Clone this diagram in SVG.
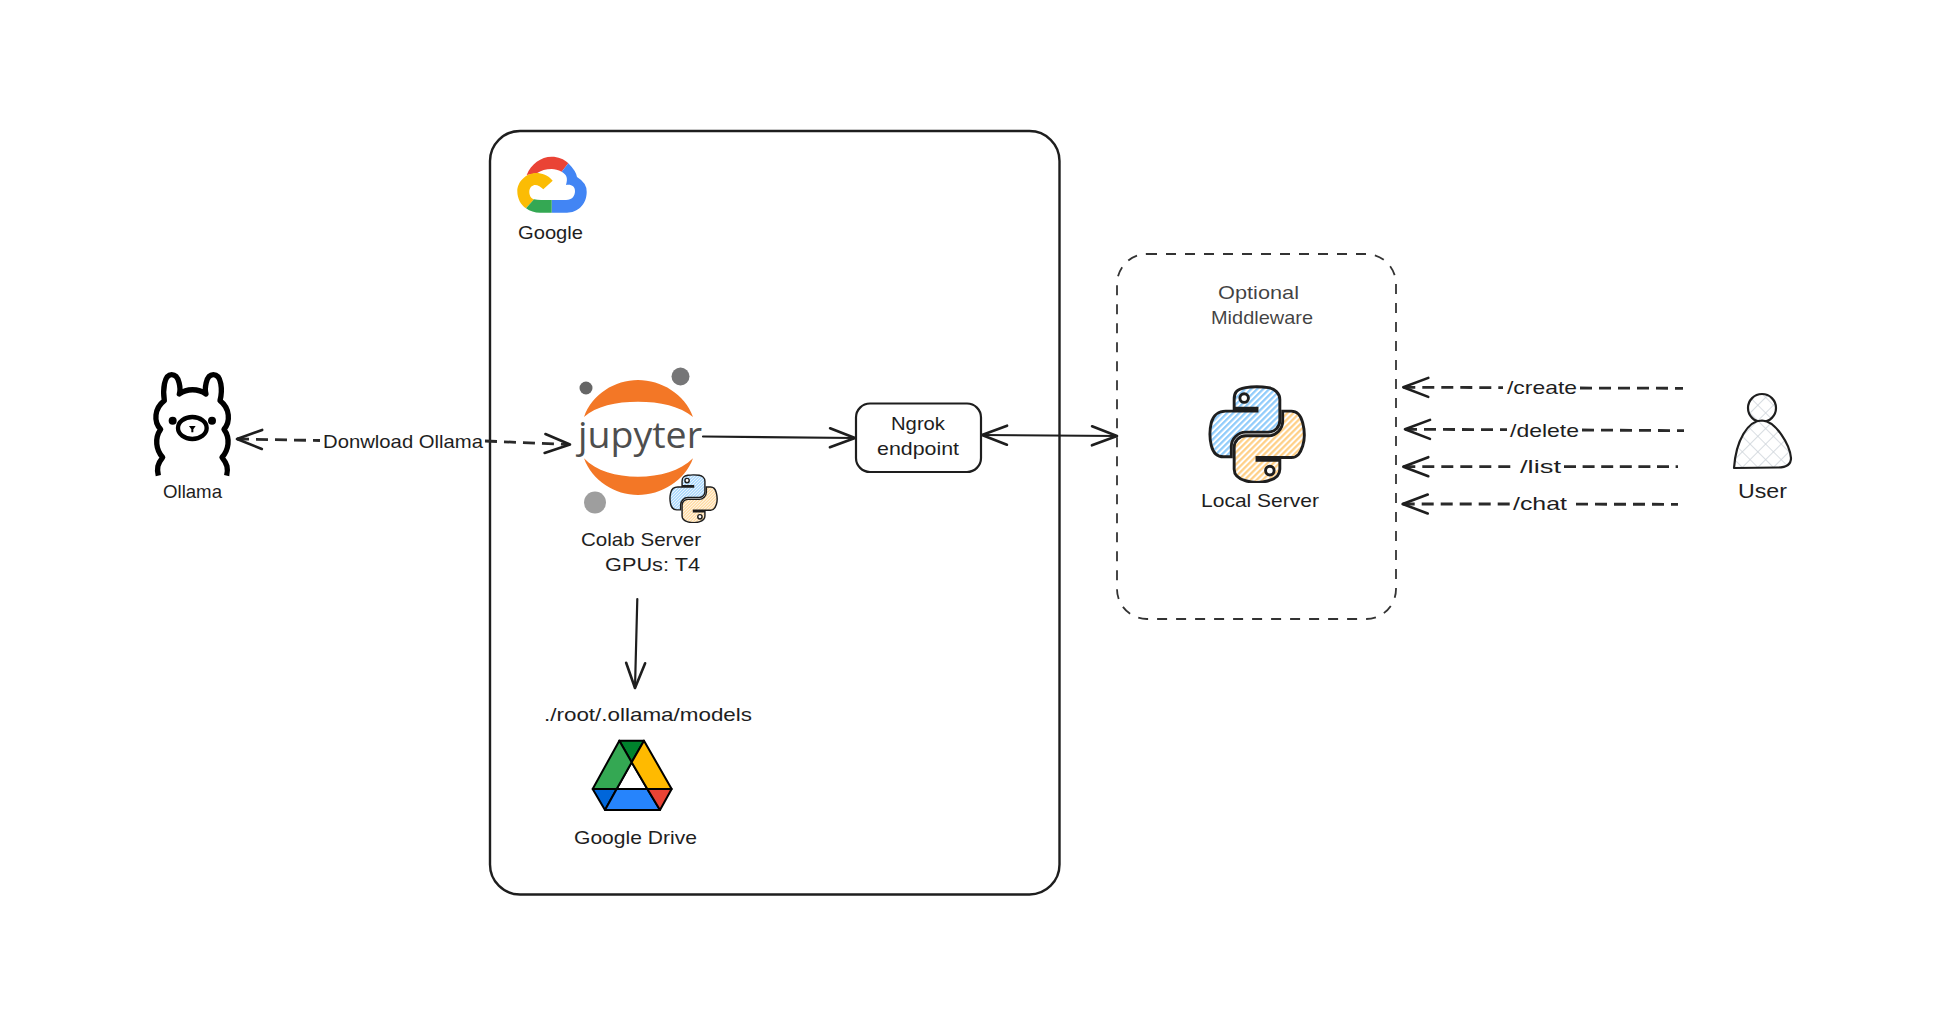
<svg xmlns="http://www.w3.org/2000/svg" width="1944" height="1023" viewBox="0 0 1944 1023">
<style>
text{font-family:"Liberation Sans","DejaVu Sans",sans-serif;font-size:19px;fill:#1e1e1e}
.c{fill:none;stroke:#1e1e1e;stroke-width:2.2;stroke-linecap:round}
.d{fill:none;stroke:#2a2a2a;stroke-width:2.8;stroke-dasharray:12 7}
.h{marker-end:url(#ah)}
.t{marker-start:url(#ah)}
.py{stroke:#1e1e1e;stroke-width:3.4;fill-rule:evenodd}
</style>
<defs>
<marker id="ah" viewBox="-28 -12 31 24" refX="0" refY="0" markerWidth="31" markerHeight="24" markerUnits="userSpaceOnUse" orient="auto-start-reverse">
<path d="M-25,-9.5 L0,0 L-25,9.5" fill="none" stroke="#1e1e1e" stroke-width="2.6" stroke-linecap="round" stroke-linejoin="round"/>
</marker>
<pattern id="hb" width="5" height="5" patternUnits="userSpaceOnUse" patternTransform="rotate(45)">
<rect width="5" height="5" fill="#fff"/><rect width="2.6" height="5" fill="#8fcbfb"/>
</pattern>
<pattern id="hy" width="5" height="5" patternUnits="userSpaceOnUse" patternTransform="rotate(45)">
<rect width="5" height="5" fill="#fff"/><rect width="2.6" height="5" fill="#ffcf85"/>
</pattern>
<pattern id="hx" width="11" height="11" patternUnits="userSpaceOnUse" patternTransform="rotate(45)">
<rect width="11" height="11" fill="#fff"/><path d="M0,0H11M0,0V11" stroke="#ced4da" stroke-width="1.6" fill="none"/>
</pattern>
<symbol id="python" viewBox="-2 -2 115 115">
<path class="py" fill="url(#hb)" d="M54.919,0 c-4.584,0.021 -8.961,0.412 -12.813,1.094 C30.760,3.099 28.700,7.295 28.700,15.032 v10.219 h26.813 v3.406 H28.700 H18.638 c-7.792,0 -14.616,4.684 -16.750,13.594 C-0.574,52.464 -0.684,58.691 1.888,69.032 C3.793,76.732 8.347,82.219 16.138,82.219 h9.219 V69.969 c0,-8.850 7.657,-16.656 16.750,-16.656 h26.781 c7.455,0 13.406,-6.138 13.406,-13.625 V15.032 c0,-7.266 -6.130,-12.725 -13.406,-13.938 C64.282,0.328 59.502,-0.021 54.919,0 z M40.419,8.219 c2.770,0 5.031,2.299 5.031,5.125 c0,2.816 -2.262,5.094 -5.031,5.094 c-2.779,0 -5.031,-2.277 -5.031,-5.094 c0,-2.826 2.252,-5.125 5.031,-5.125 z"/>
<path class="py" fill="url(#hy)" d="M85.638,28.657 v11.906 c0,9.231 -7.826,17 -16.750,17 H42.106 c-7.336,0 -13.406,6.278 -13.406,13.625 V96.719 c0,7.266 6.319,11.540 13.406,13.625 c8.487,2.496 16.626,2.947 26.781,0 C75.637,108.390 82.294,104.447 82.294,96.719 V86.500 H55.513 v-3.406 H82.294 h13.406 c7.792,0 10.696,-5.435 13.406,-13.594 c2.799,-8.399 2.741,-16.476 0,-27.250 c-1.926,-7.757 -5.604,-13.594 -13.406,-13.594 z M70.575,93.313 c2.779,0 5.031,2.277 5.031,5.094 c0,2.826 -2.252,5.125 -5.031,5.125 c-2.770,0 -5.031,-2.299 -5.031,-5.125 c0,-2.816 2.262,-5.094 5.031,-5.094 z"/>
</symbol>
</defs>
<rect width="1944" height="1023" fill="#fff"/>

<g id="google-container">
<rect x="490" y="131" width="569.5" height="763.5" rx="30" fill="none" stroke="#1e1e1e" stroke-width="2.4"/>
</g>
<g id="middleware-container">
<rect x="1117" y="254" width="279" height="365" rx="30" fill="none" stroke="#333" stroke-width="1.8" stroke-dasharray="10 9"/>
<text x="1218" y="298.5" textLength="81" lengthAdjust="spacingAndGlyphs" fill-opacity=".85">Optional</text>
<text x="1211" y="323.5" textLength="102" lengthAdjust="spacingAndGlyphs" fill-opacity=".85">Middleware</text>
</g>

<g id="connectors">
<path class="d t" d="M237,439 L320,440.5"/>
<text x="323" y="447.5" textLength="160" lengthAdjust="spacingAndGlyphs">Donwload Ollama</text>
<path class="d h" d="M485,441 L570,444.5"/>
<path class="c h" d="M703,436.5 L855,438"/>
<path class="c h" d="M637.3,599 L635,688"/>
<path class="c t h" d="M982,435 L1117,436"/>
<path class="d t" d="M1403.3,387.3 L1503,387.6"/>
<text x="1507" y="393.5" textLength="70" lengthAdjust="spacingAndGlyphs">/create</text>
<path class="d" d="M1580,388 L1683,388.3"/>
<path class="d t" d="M1405,429.3 L1507,429.7"/>
<text x="1510" y="436.5" textLength="69" lengthAdjust="spacingAndGlyphs">/delete</text>
<path class="d" d="M1582,430 L1684,430.7"/>
<path class="d t" d="M1403.3,466.7 L1517,466.7"/>
<text x="1520" y="473" textLength="41" lengthAdjust="spacingAndGlyphs">/list</text>
<path class="d" d="M1564,466.7 L1678,466.7" style="stroke-dasharray:12 6.6"/>
<path class="d t" d="M1402.7,504 L1510,504"/>
<text x="1513" y="510" textLength="54" lengthAdjust="spacingAndGlyphs">/chat</text>
<path class="d" d="M1576,504.2 L1678,504.3"/>
</g>

<g id="ollama">
<g transform="translate(120,340) scale(.33333)">
<path fill="#fff" stroke="#000" stroke-width="16" stroke-linejoin="round" d="M115,407 C110,385 112,372 128,352 C108,330 103,295 122,268 C100,245 103,205 133,182 C128,150 132,104 155,104 C180,104 182,150 178,162 C200,145 235,145 258,162 C254,150 256,104 280,104 C305,104 308,150 300,182 C330,205 332,245 312,268 C332,295 326,330 306,352 C322,372 325,385 320,407"/>
<ellipse cx="217" cy="264" rx="43" ry="33" fill="#fff" stroke="#000" stroke-width="13"/>
<circle cx="158" cy="242" r="12"/>
<circle cx="276" cy="242" r="12"/>
<path d="M207,258 H227 L220,268 V277 H214 V268 Z"/>
</g>
<text x="163" y="498" textLength="59" lengthAdjust="spacingAndGlyphs">Ollama</text>
</g>

<g id="google-cloud">
<path fill="#ea4335" d="M526.7,175 C531,164 541,156.7 551.7,156.7 C558,156.7 564,159 568.3,163.3 L561.7,171.7 C558,170 555,169 551.7,169 C546,169 541,170.5 536.7,173.3 Z"/>
<path fill="#4285f4" d="M568.3,163.3 Q576,171 577,177 Q587,183 586.7,192 C586.7,205 577,212.7 567,212.7 L551.7,212.7 L551.7,200 L566,200 C572,200 575,196 575,191 C575,186 571,184 566,185 C568,178 567,175 561.7,171.7 Z"/>
<path fill="#fbbc04" d="M552.7,180.7 C548,175 542,173 536,173 C526,173 517.3,182 517.3,191 C517.3,199 521,205 526,208.3 L534,199.3 C530,198 529.3,194 529.3,191.7 C529.3,187 533,185 535,185 C538,185 541,187 543.3,189.3 Z"/>
<path fill="#34a853" d="M526,208.3 L534,199.3 Q537,200 541,200 L551.7,200 L551.7,212.7 L540,212.7 Q532,212.7 526,208.3 Z"/>
<text x="518" y="239" textLength="65" lengthAdjust="spacingAndGlyphs">Google</text>
</g>

<g id="colab-server">
<path fill="#f37726" d="M584,417 C592,394 615,380 638,380 C661,380 685,394 693,417 C680,406 660,401.7 638,401.7 C616,401.7 596,406 584,417 Z"/>
<path fill="#f37726" d="M584,458.3 C592,481 615,495 638,495 C661,495 685,481 693,458.3 C680,471 660,476.7 638,476.7 C616,476.7 596,471 584,458.3 Z"/>
<circle cx="586" cy="388" r="6.5" fill="#666"/>
<circle cx="680.5" cy="376.5" r="9" fill="#767677"/>
<circle cx="595" cy="502.5" r="11" fill="#9e9e9e"/>
<text x="578" y="448" textLength="124" lengthAdjust="spacingAndGlyphs" style="font-family:'Open Sans','DejaVu Sans',sans-serif;font-size:37px;fill:#4e4e4e">jupyter</text>
<use href="#python" x="669" y="474" width="49" height="49"/>
<text x="581" y="546" textLength="120" lengthAdjust="spacingAndGlyphs">Colab Server</text>
<text x="605" y="571" textLength="95" lengthAdjust="spacingAndGlyphs">GPUs: T4</text>
</g>

<g id="google-drive">
<text x="544" y="720.5" textLength="208" lengthAdjust="spacingAndGlyphs">./root/.ollama/models</text>
<g transform="translate(520,580) scale(.33333)" stroke="#000" stroke-width="6" stroke-linejoin="round">
<path fill="#fff" d="M335,547 L290,627 H382 Z"/>
<path fill="#00832d" d="M298,482 H372 L335,547 Z"/>
<path fill="#34a853" d="M298,482 L335,547 L290,627 H218 Z"/>
<path fill="#ffba00" d="M372,482 L455,627 H382 L335,547 Z"/>
<path fill="#0066da" d="M218,627 H290 L255,690 Z"/>
<path fill="#2684fc" d="M290,627 H382 L420,690 H255 Z"/>
<path fill="#ea4335" d="M382,627 H455 L420,690 Z"/>
</g>
<text x="574" y="844" textLength="123" lengthAdjust="spacingAndGlyphs">Google Drive</text>
</g>

<g id="ngrok-endpoint">
<rect x="856" y="403.5" width="125" height="68.5" rx="14" fill="#fff" stroke="#1e1e1e" stroke-width="2.2"/>
<text x="891" y="430" textLength="54" lengthAdjust="spacingAndGlyphs">Ngrok</text>
<text x="877" y="455" textLength="82" lengthAdjust="spacingAndGlyphs">endpoint</text>
</g>

<g id="local-server">
<use href="#python" x="1208" y="385" width="98" height="98"/>
<text x="1201" y="506.5" textLength="118" lengthAdjust="spacingAndGlyphs">Local Server</text>
</g>

<g id="user">
<circle cx="1762" cy="408" r="14" fill="url(#hx)" stroke="#1e1e1e" stroke-width="2.2"/>
<path fill="url(#hx)" stroke="#1e1e1e" stroke-width="2.2" stroke-linejoin="round" d="M1734,468 C1736,440 1748,420.5 1762,420.5 C1776,421 1790,445 1791,458 C1791,465 1786,467.5 1778,467.5 Z"/>
<text x="1738" y="498" textLength="49" lengthAdjust="spacingAndGlyphs" style="font-size:21px">User</text>
</g>
</svg>
